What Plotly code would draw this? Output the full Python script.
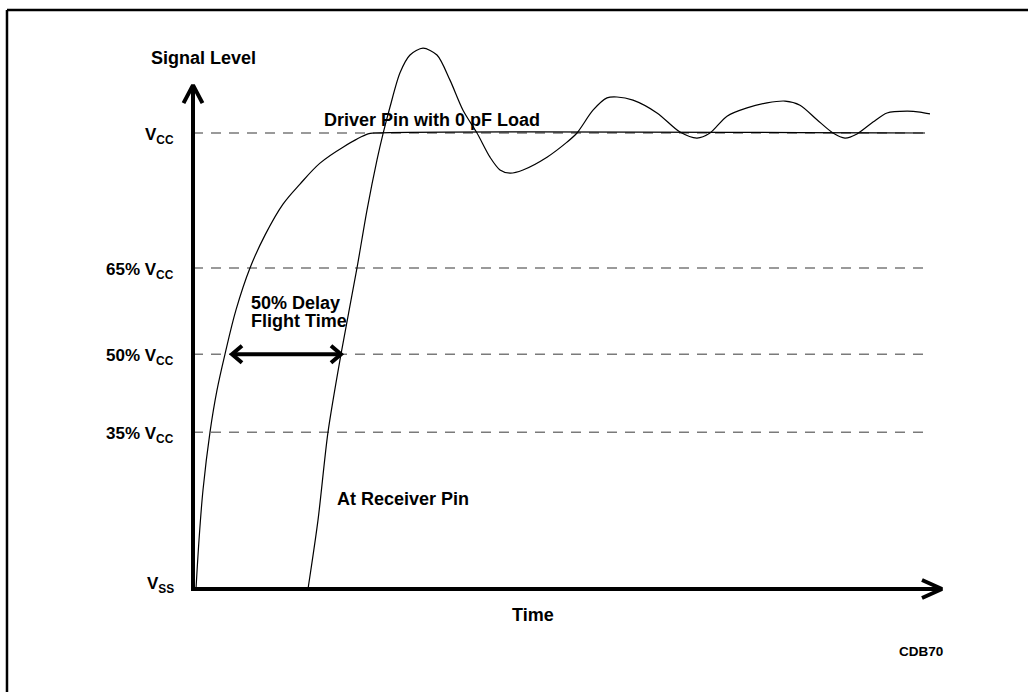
import plotly.graph_objects as go

# Signal levels are read in % of Vcc, time in arbitrary units (0 = y axis)
driver_t = [0.3, 0.6, 1.0, 1.7, 2.4, 3.2, 4.3, 5.7, 7.2, 9.0, 10.7, 12.7, 15.0, 17.5, 18.2, 73.2]
driver_v = [0, 10.7, 21.7, 34.4, 43.6, 51.5, 61.2, 70.4, 77.6, 84.4, 88.8, 93.4, 96.9, 99.8, 100, 100]

receiver_t = [11.5, 12.5, 13.5, 14.8, 16.4, 17.4, 18.4, 19.0, 19.7, 20.7, 21.7, 23.0, 24.4, 25.7,
              27.0, 28.4, 29.7, 30.7, 31.7, 33.0, 35.4, 37.4, 38.4, 40.0, 41.4, 42.4, 44.0, 46.4,
              48.7, 50.4, 51.7, 53.4, 55.4, 57.4, 59.2, 60.7, 62.4, 64.0, 65.2, 66.4, 68.0, 69.4,
              71.4, 72.7, 73.7]
receiver_v = [0, 15.1, 34.4, 51.5, 70.4, 83.1, 94.1, 99.8, 105.7, 113.2, 117.1, 118.6, 117.1, 111.6,
              105.0, 100.0, 94.7, 91.9, 91.2, 91.9, 94.7, 98.0, 100.0, 105.0, 107.7, 107.9, 107.2, 104.4,
              100.2, 98.9, 100.0, 103.7, 105.5, 106.6, 107.0, 106.1, 102.9, 100.0, 98.9, 99.8, 102.4, 104.4,
              104.8, 104.6, 104.2]

ref_levels = [100, 70.4, 51.5, 34.4]
ref_labels = ['V<sub>CC</sub>', '65% V<sub>CC</sub>', '50% V<sub>CC</sub>', '35% V<sub>CC</sub>']
ref_end = 73.4

axis_top = 110.5
axis_right = 74.9
delay_span = [3.9, 14.8]
delay_level = 51.5

# data units per screen pixel
PX_T = 0.1
PX_V = 1 / 4.56

FONT = 'Liberation Sans, Arial, sans-serif'
fig = go.Figure()

# dashed reference levels
for lv in ref_levels:
    fig.add_trace(go.Scatter(x=[0, ref_end], y=[lv, lv], mode='lines',
                             line=dict(color='#7a7a7a', width=1.5, dash='10px,8px'),
                             hoverinfo='skip', showlegend=False))

fig.add_trace(go.Scatter(x=driver_t, y=driver_v, mode='lines', line_shape='spline',
                         line=dict(color='black', width=1.2, smoothing=1.0),
                         name='Driver', showlegend=False))
fig.add_trace(go.Scatter(x=receiver_t, y=receiver_v, mode='lines', line_shape='spline',
                         line=dict(color='black', width=1.2, smoothing=0.8),
                         name='Receiver', showlegend=False))


def thick(xs, ys):
    fig.add_trace(go.Scatter(x=xs, y=ys, mode='lines', line=dict(color='black', width=4),
                             hoverinfo='skip', showlegend=False))


# axes with open arrowheads
thick([0, 0, axis_right], [axis_top, 0, 0])
thick([-9.5 * PX_T, 0, 9.5 * PX_T], [axis_top - 18 * PX_V, axis_top, axis_top - 18 * PX_V])
thick([axis_right - 20 * PX_T, axis_right, axis_right - 20 * PX_T], [9 * PX_V, 0, -9 * PX_V])

# 50% delay double arrow
a, b = delay_span
thick([a, b], [delay_level, delay_level])
thick([a + 10 * PX_T, a, a + 10 * PX_T], [delay_level + 8.5 * PX_V, delay_level, delay_level - 8.5 * PX_V])
thick([b - 10 * PX_T, b, b - 10 * PX_T], [delay_level + 8.5 * PX_V, delay_level, delay_level - 8.5 * PX_V])


def label(x, y, text, size=18, xanchor='center', yshift=0):
    fig.add_annotation(x=x, y=y, text='<b>' + text + '</b>', showarrow=False,
                       xanchor=xanchor, yanchor='middle', yshift=yshift,
                       font=dict(family=FONT, size=size, color='black'))


for lv, txt in zip(ref_levels, ref_labels):
    label(-1.7, lv, txt, size=17, xanchor='right', yshift=-3)
label(-1.7, 1.5, 'V<sub>SS</sub>', size=17, xanchor='right', yshift=-3)

label(1.0, 116.5, 'Signal Level')
label(23.9, 102.9, 'Driver Pin with 0 pF Load')
label(5.6, 62.7, '50% Delay', xanchor='left')
label(5.6, 58.8, 'Flight Time', xanchor='left')
label(14.2, 19.7, 'At Receiver Pin', xanchor='left')
label(34.0, -5.7, 'Time')
label(72.8, -13.6, 'CDB70', size=13.5)

# frame around the figure (open on right and bottom)
fig.add_shape(type='line', xref='paper', yref='paper', x0=0.0068, x1=1.05, y0=0.9855, y1=0.9855,
              line=dict(color='black', width=2.5))
fig.add_shape(type='line', xref='paper', yref='paper', x0=0.0068, x1=0.0068, y0=0.9855, y1=-0.05,
              line=dict(color='black', width=2.5))

fig.update_layout(
    width=1028, height=692,
    margin=dict(l=0, r=0, t=0, b=0),
    plot_bgcolor='white', paper_bgcolor='white',
    xaxis=dict(range=[-19.3, 83.5], visible=False, fixedrange=True),
    yaxis=dict(range=[-22.59, 129.17], visible=False, fixedrange=True),
)

fig.write_html('out.html', config={'displayModeBar': False},
               post_script="document.body.style.margin='0';")
